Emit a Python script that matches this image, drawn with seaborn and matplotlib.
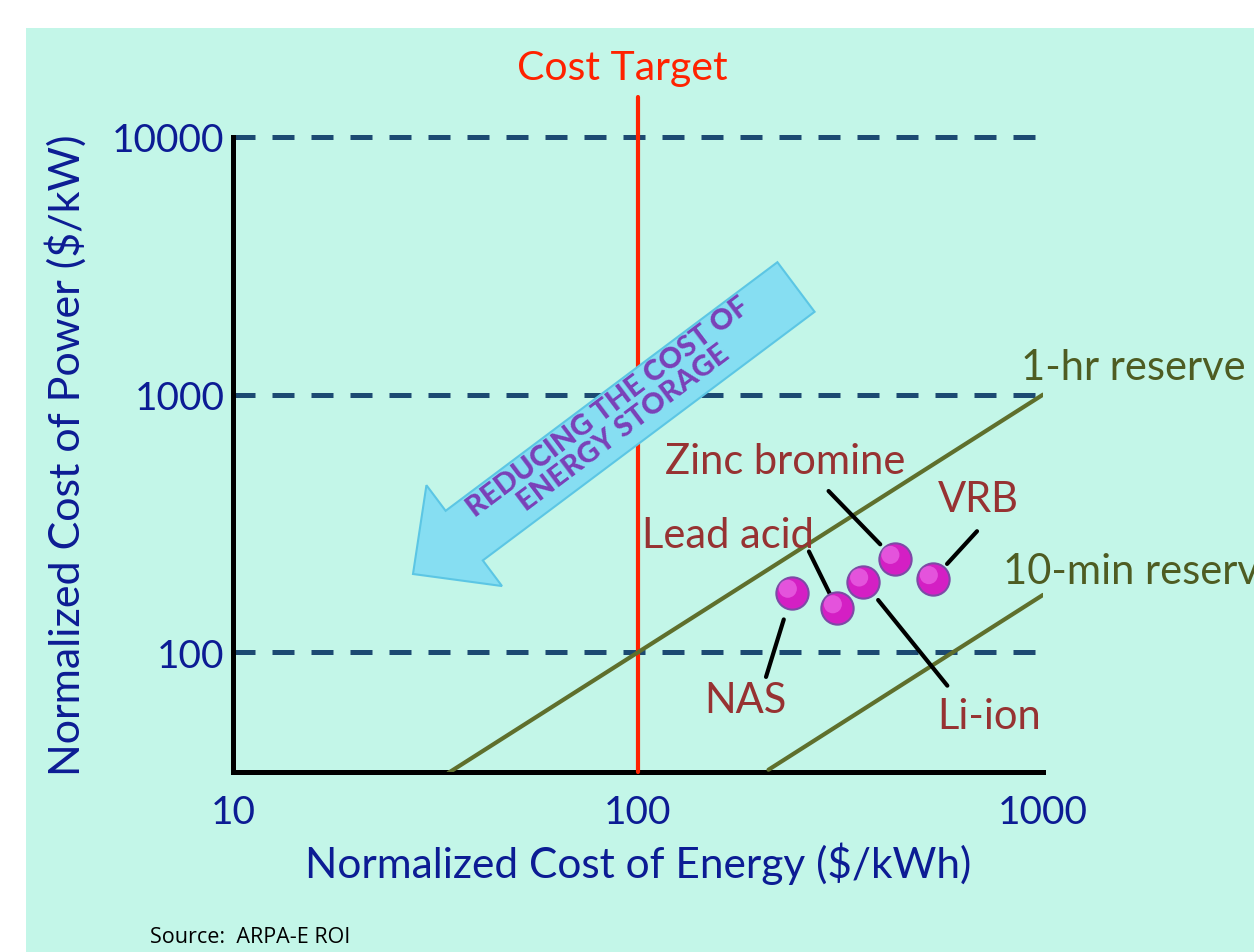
import matplotlib
matplotlib.use("Agg")
import matplotlib.pyplot as plt
import matplotlib.transforms as mtransforms
from matplotlib.patches import Rectangle, FancyArrow
import seaborn as sns
import pandas as pd

# Technologies: normalized cost of energy ($/kWh) vs cost of power ($/kW)
technologies = ["NAS", "Lead acid", "Li-ion", "Zinc bromine", "VRB"]
energy_cost = [240, 310, 360, 430, 535]
power_cost = [170, 148, 188, 230, 192]

# Reserve lines (1-hr: power = energy; 10-min: power = energy / 6)
one_hr_energy = [34, 1000]
one_hr_power = [34, 1000]
ten_min_energy = [210, 1000]
ten_min_power = [35, 167]

cost_target_energy = 100
gridlines_power = [100, 1000, 10000]
x_ticks = [10, 100, 1000]
y_ticks = [100, 1000, 10000]

sns.set_theme(style="white")
plt.rcParams["font.family"] = ["Lato", "DejaVu Sans"]

BG = "#c3f6e8"
NAVY = "#0c1c94"
DASH = "#1c4a72"
OLIVE = "#5f6f2c"
OLIVE_TXT = "#4e5c22"
DARKRED = "#973232"
RED = "#ff2200"

fig = plt.figure(figsize=(12.54, 9.53), dpi=100, facecolor="white")
fig.patches.append(Rectangle((26 / 1254, 0), 1 - 26 / 1254, 1 - 29 / 953,
                             transform=fig.transFigure, facecolor=BG,
                             edgecolor="none", zorder=-10))

ax = fig.add_axes([233 / 1254, 1 - 773 / 953, 810 / 1254, 635 / 953])
ax.set_facecolor("none")
ax.set_xscale("log")
ax.set_yscale("log")
ax.set_xlim(10, 1000)
ax.set_ylim(34.3, 10000)

for s in ["top", "right"]:
    ax.spines[s].set_visible(False)
for s in ["left", "bottom"]:
    ax.spines[s].set_color("black")
    ax.spines[s].set_linewidth(3.6)

ax.set_xticks(x_ticks)
ax.set_xticklabels([str(v) for v in x_ticks])
ax.set_yticks(y_ticks)
ax.set_yticklabels([str(v) for v in y_ticks])
ax.minorticks_off()
ax.tick_params(axis="both", length=0, labelsize=28, colors=NAVY)
ax.tick_params(axis="x", pad=16)
ax.tick_params(axis="y", pad=6)

# Dashed power-cost gridlines
for v in gridlines_power:
    ax.axhline(v, color=DASH, lw=3.6, dashes=(4.4, 3.4), dash_capstyle="butt",
               clip_on=False, zorder=2)

# Cost target line
ax.axvline(cost_target_energy, ymin=0, ymax=1.063, color=RED, lw=3,
           clip_on=False, zorder=3)
ax.text(0.481, 1.110, "Cost Target", transform=ax.transAxes,
        ha="center", va="center", fontsize=29.5, color=RED)

# Reserve lines
lines = pd.DataFrame({
    "energy": one_hr_energy + ten_min_energy,
    "power": one_hr_power + ten_min_power,
    "reserve": ["1-hr"] * 2 + ["10-min"] * 2,
})
sns.lineplot(data=lines, x="energy", y="power", units="reserve", estimator=None,
             sort=False, color=OLIVE, lw=3, ax=ax, zorder=4)
ax.annotate("1-hr reserve", xy=(one_hr_energy[-1], one_hr_power[-1]),
            xytext=(-16, 20), textcoords="offset points", fontsize=30,
            color=OLIVE_TXT, ha="left", va="center", annotation_clip=False)
ax.annotate("10-min reserve", xy=(ten_min_energy[-1], ten_min_power[-1]),
            xytext=(-29, 17), textcoords="offset points", fontsize=30,
            color=OLIVE_TXT, ha="left", va="center", annotation_clip=False)

# Technology points
pts = pd.DataFrame({"tech": technologies, "energy": energy_cost, "power": power_cost})
sns.scatterplot(data=pts, x="energy", y="power", s=540, color="#d41fc4",
                edgecolor="#7d4aa6", linewidth=1.5, ax=ax, zorder=6, legend=False)
hl = mtransforms.offset_copy(ax.transData, fig=fig, x=-3, y=3, units="points")
ax.scatter(energy_cost, power_cost, s=170, color="#f27ff0", alpha=0.55,
           edgecolor="none", transform=hl, zorder=7)

ax.set_xlabel("Normalized Cost of Energy ($/kWh)", fontsize=30.5, color=NAVY, labelpad=8)
ax.set_ylabel("Normalized Cost of Power ($/kW)", fontsize=31, color=NAVY, labelpad=18)

# Leader lines (far end offset, gap at point) and labels (offset points)
leaders = {
    "NAS": ((-18.7, -60.5), 20, (-33.8, -77)),
    "Lead acid": ((-20.2, 41), 11.5, (-78.5, 52.6)),
    "Li-ion": ((60.5, -74.9), 17, (90.7, -96.5)),
    "Zinc bromine": ((-47.5, 49), 14.8, (-78.5, 70.6)),
    "VRB": ((31.7, 34.6), 15, (32.4, 57.6)),
}
for name, ex, py in zip(technologies, energy_cost, power_cost):
    far, gap, txt = leaders[name]
    ax.annotate("", xy=(ex, py), xytext=far, textcoords="offset points",
                arrowprops=dict(arrowstyle="-", color="black", lw=3,
                                shrinkA=0, shrinkB=gap), zorder=5)
    ax.annotate(name, xy=(ex, py), xytext=txt, textcoords="offset points",
                ha="center", va="center", fontsize=30, color=DARKRED, zorder=8)

# Direction arrow
arrow = FancyArrow(7.96, 6.65, -3.83, -2.87, width=0.62, head_width=1.26,
                   head_length=0.64, length_includes_head=True,
                   transform=fig.dpi_scale_trans, facecolor="#86def2",
                   edgecolor="#5cc6e4", lw=1.5, zorder=1)
fig.patches.append(arrow)
fig.text(616 / 1254, 1 - 418 / 953, "REDUCING THE COST OF\nENERGY STORAGE",
         rotation=37, rotation_mode="anchor", ha="center", va="center",
         fontsize=21, fontweight="black", color="#7a40b8", linespacing=1.0,
         zorder=2)

fig.text(150 / 1254, 1 - 938 / 953, "Source:  ARPA-E ROI", fontsize=15.5,
         color="black", ha="left", va="center",
         family=["Open Sans", "DejaVu Sans"])

fig.savefig("out.png", dpi=100, facecolor="white")
